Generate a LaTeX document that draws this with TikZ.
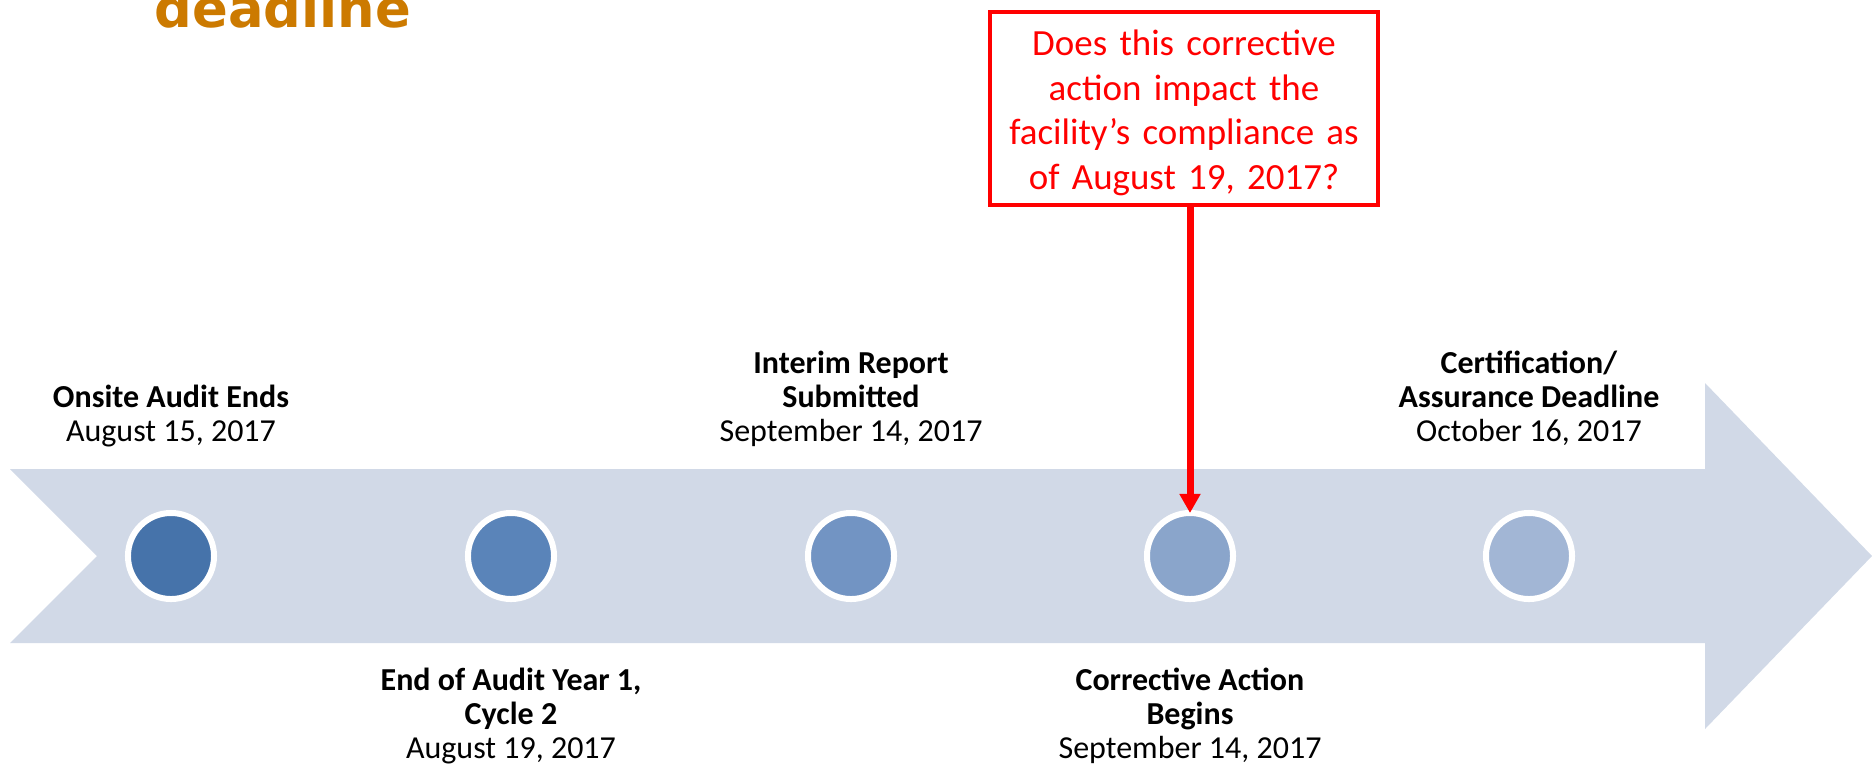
\documentclass[tikz,border=0pt]{standalone}
\usepackage{fontspec}
\setmainfont{Carlito}
\newfontfamily\headfont{DejaVu Sans}
\usetikzlibrary{arrows.meta}
\definecolor{band}{HTML}{D1D9E7}
\definecolor{stopA}{HTML}{4673AA}
\definecolor{stopB}{HTML}{5A84B9}
\definecolor{stopC}{HTML}{7294C3}
\definecolor{stopD}{HTML}{8AA5CB}
\definecolor{stopE}{HTML}{A2B6D5}
\definecolor{headorange}{HTML}{CC7A00}
\begin{document}
\begin{tikzpicture}[x=0.01cm, y=-0.01cm,
  stop/.style={circle, draw=white, line width=0.06cm, minimum size=0.86cm, inner sep=0, outer sep=0},
  lbl/.style={align=center, inner sep=0, anchor=base, font=\fontsize{9.1}{9.6}\selectfont}]
  \useasboundingbox (0,0) rectangle (1872,766);
  % heading, cut at the top
  \node[anchor=base west, inner sep=0, text=headorange, font={\headfont\bfseries\fontsize{15}{18}\selectfont}] (heading) at (154,27) {deadline};
  % timeline band
  \fill[band] (10,469) -- (1705,469) -- (1705,383) -- (1872,556) -- (1705,729) -- (1705,643) -- (10,643) -- (97,556) -- cycle;
  \node[stop, fill=stopA] (c1) at (171,556) {};
  \node[stop, fill=stopB] (c2) at (511,556) {};
  \node[stop, fill=stopC] (c3) at (851,556) {};
  \node[stop, fill=stopD] (c4) at (1190,556) {};
  \node[stop, fill=stopE] (c5) at (1529,556) {};
  % labels (base = last line)
  \node[lbl] (onsite) at (171,441) {\textbf{Onsite Audit Ends}\\August 15, 2017};
  \node[lbl] (interim) at (851,441) {\textbf{Interim Report}\\\textbf{Submitted}\\September 14, 2017};
  \node[lbl] (certif) at (1529,441) {\textbf{Certification/}\\\textbf{Assurance Deadline}\\October 16, 2017};
  \node[lbl] (yearend) at (511,758) {\textbf{End of Audit Year 1,}\\\textbf{Cycle 2}\\August 19, 2017};
  \node[lbl] (corrective) at (1190,758) {\textbf{Corrective Action}\\\textbf{Begins}\\September 14, 2017};
  % question box
  \node[draw=red, line width=0.045cm, minimum width=3.875cm, minimum height=1.925cm, text width=3.7cm, align=center, inner sep=0, text=red, font=\fontsize{10.5}{12.7}\selectfont] (question) at (1184,108.5) {\rule{0pt}{0.34cm}Does this corrective action impact the facility’s compliance as of August 19, 2017?};
  \draw[red, line width=0.07cm, -{Triangle[width=0.2cm, length=0.19cm]}] (question.south -| c4) -- (c4.north);
\end{tikzpicture}
\end{document}
